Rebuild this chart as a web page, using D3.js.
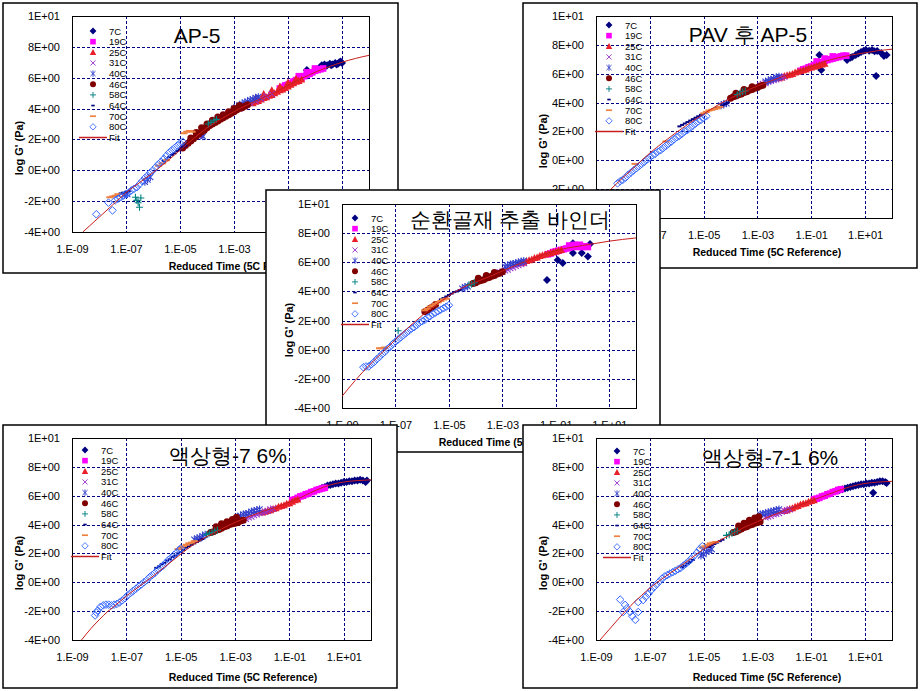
<!DOCTYPE html>
<html>
<head>
<meta charset="utf-8">
<script src="https://cdn.jsdelivr.net/npm/d3@7"></script>
<style>
  body { margin: 0; background: #fff; }
  svg text { font-family: "Liberation Sans", Arial, sans-serif; }
</style>
</head>
<body>
<svg id="chart" width="920" height="691"></svg>
<script>
const temps = ["7C", "19C", "25C", "31C", "40C", "46C", "58C", "64C", "70C", "80C"];
const xTicks = [1e-9, 1e-7, 1e-5, 1e-3, 1e-1, 1e1];
const xTickLabels = ["1.E-09", "1.E-07", "1.E-05", "1.E-03", "1.E-01", "1.E+01"];
const yTicks = [10, 8, 6, 4, 2, 0, -2, -4];
const yTickLabels = ["1E+01", "8E+00", "6E+00", "4E+00", "2E+00", "0E+00", "-2E+00", "-4E+00"];
const titles = ["AP-5", "PAV 후 AP-5", "순환골재 추출 바인더", "액상형-7 6%", "액상형-7-1 6%"];

// points are [log10 reduced time, log G'], one array per temperature (same order as temps)
const ap5Data = [
  [[-0.3,6.5],[0.2,6.7],[0.25,6.8],[0.35,6.85],[0.4,6.75],[0.45,6.8],[0.55,6.9],[0.6,6.8],[0.65,6.85],[0.75,6.95],[0.8,6.85],[0.85,6.9],[0.9,7.0],[0.95,7.05],[1.0,6.95]],
  [[-1.3,5.3],[-1.2,5.4],[-1.1,5.5],[-1.0,5.55],[-0.9,5.65],[-0.8,5.75],[-0.7,5.85],[-0.6,5.9],[-0.5,6.0],[-0.4,6.1],[-0.3,6.2],[-0.2,6.25],[-0.1,6.35],[0.0,6.45],[0.1,6.5],[0.2,6.55],[0.3,6.6],[-0.6,6.1],[-0.3,6.35],[0.0,6.6]],
  [[-2.3,4.35],[-2.2,4.45],[-2.1,4.5],[-2.0,4.6],[-1.9,4.7],[-1.8,4.75],[-1.7,4.85],[-1.6,4.9],[-1.5,5.0],[-1.4,5.1],[-1.3,5.2],[-1.2,5.25],[-1.1,5.35],[-1.0,5.45],[-0.9,5.55],[-0.8,5.65],[-0.7,5.75],[-0.6,5.8],[-0.5,5.9],[-2.2,4.7],[-1.9,4.95],[-1.6,5.2],[-1.3,5.45],[-1.0,5.7],[-0.7,5.95]],
  [[-3.2,3.65],[-3.0,3.85],[-2.8,4.0],[-2.6,4.15],[-2.4,4.35],[-2.2,4.5],[-2.0,4.65],[-1.8,4.8],[-1.6,4.95],[-4.4,2.3],[-4.3,2.25],[-4.2,2.4]],
  [[-3.0,4.0],[-2.9,4.1],[-2.8,4.2],[-2.7,4.3],[-2.6,4.4],[-2.5,4.45],[-2.4,4.55],[-2.3,4.6],[-2.2,4.7],[-2.1,4.75],[-6.3,-0.75],[-6.2,-0.6],[-6.1,-0.45],[-7.05,-1.6],[-6.95,-1.55],[-4.3,2.35],[-4.15,2.2]],
  [[-4.9,1.45],[-4.8,1.6],[-4.7,1.75],[-4.6,1.9],[-4.5,2.05],[-4.4,2.2],[-4.3,2.35],[-4.2,2.5],[-4.1,2.6],[-4.0,2.75],[-3.9,2.9],[-3.8,3.0],[-3.7,3.1],[-3.6,3.2],[-3.5,3.3],[-3.4,3.4],[-3.3,3.5],[-3.2,3.6],[-3.1,3.7],[-3.0,3.8],[-2.9,3.9],[-2.8,4.0],[-2.7,4.05],[-2.6,4.15],[-2.5,4.25],[-4.6,2.1],[-4.4,2.45],[-4.2,2.75],[-4.0,3.0],[-3.8,3.25],[-3.6,3.45],[-3.4,3.6],[-3.2,3.8],[-3.0,4.0],[-2.8,4.2]],
  [[-3.95,3.0],[-3.85,3.1],[-3.75,3.2],[-3.65,3.3],[-6.65,-1.75],[-6.55,-2.1],[-6.45,-1.8],[-6.5,-2.4],[-6.6,-1.95]],
  [[-5.6,0.6],[-5.5,0.7],[-5.4,0.85],[-5.3,1.0],[-5.2,1.1],[-5.1,1.25],[-5.0,1.35],[-4.9,1.5],[-4.8,1.6],[-7.3,-1.6],[-7.2,-1.5],[-7.1,-1.45],[-7.0,-1.4],[-6.9,-1.35]],
  [[-4.85,2.4],[-4.75,2.5],[-4.65,2.55],[-4.55,2.5],[-5.8,0.3],[-5.65,0.45],[-5.5,0.65],[-7.6,-1.75],[-7.5,-1.7],[-7.4,-1.65],[-7.3,-1.55]],
  [[-8.1,-2.85],[-7.65,-2.1],[-7.5,-2.6],[-7.4,-1.95],[-7.3,-1.85],[-7.2,-1.75],[-7.1,-1.65],[-7.0,-1.55],[-6.9,-1.45],[-6.8,-1.3],[-6.7,-1.2],[-6.6,-1.1],[-6.5,-0.9],[-6.4,-0.7],[-6.3,-0.5],[-6.2,-0.35],[-6.1,-0.15],[-6.0,0.0],[-5.9,0.2],[-5.8,0.4],[-5.7,0.55],[-5.6,0.75],[-5.5,0.95],[-5.4,1.15],[-5.3,1.3],[-5.2,1.45],[-5.1,1.6],[-5.0,1.75],[-4.9,1.85]]
];
const ap5Fit = [[-8.6,-4.0],[-8.0,-3.05],[-7.5,-2.25],[-7.0,-1.45],[-6.5,-0.8],[-6.0,-0.15],[-5.5,0.55],[-5.0,1.3],[-4.5,2.05],[-4.0,2.75],[-3.5,3.3],[-3.0,3.8],[-2.5,4.25],[-2.0,4.65],[-1.5,5.05],[-1.0,5.5],[-0.5,5.95],[0,6.35],[0.5,6.7],[1.0,7.0],[1.5,7.25],[2.0,7.45]];

const pavData = [
  [[-0.63,6.26],[-0.7,7.3],[0.33,6.95],[0.45,7.1],[0.52,7.16],[0.65,7.3],[0.75,7.4],[0.85,7.5],[0.95,7.6],[1.03,7.64],[1.15,7.6],[1.26,7.64],[1.35,7.55],[1.45,7.57],[1.41,5.84],[1.6,7.43],[1.7,7.23],[1.8,7.3]],
  [[-1.4,6.2],[-1.3,6.3],[-1.2,6.35],[-1.1,6.45],[-1.0,6.5],[-0.9,6.6],[-0.8,6.65],[-0.7,6.75],[-0.6,6.8],[-0.5,6.9],[-0.4,6.95],[-0.3,7.0],[-0.2,7.05],[-0.1,7.1],[0.0,7.15],[0.1,7.2],[0.2,7.25],[0.3,7.25],[-0.8,6.85],[-0.5,7.05],[-0.2,7.2]],
  [[-2.2,5.7],[-2.1,5.75],[-2.0,5.85],[-1.9,5.9],[-1.8,5.95],[-1.7,6.0],[-1.6,6.1],[-1.5,6.15],[-1.4,6.2],[-1.3,6.25],[-1.2,6.3],[-1.1,6.4],[-1.0,6.45],[-0.9,6.5],[-0.8,6.55],[-0.7,6.6],[-0.6,6.65],[-0.5,6.7]],
  [[-2.9,5.2],[-2.8,5.3],[-2.7,5.35],[-2.6,5.45],[-2.5,5.5],[-2.4,5.55],[-2.3,5.6],[-2.2,5.7],[-2.1,5.75],[-2.0,5.8]],
  [[-2.7,5.45],[-2.6,5.5],[-2.5,5.6],[-2.4,5.65],[-2.3,5.75],[-2.2,5.8],[-4.35,3.8],[-4.25,3.9],[-4.15,3.95]],
  [[-4.0,4.3],[-3.9,4.4],[-3.8,4.45],[-3.7,4.55],[-3.6,4.6],[-3.5,4.7],[-3.4,4.75],[-3.3,4.85],[-3.2,4.9],[-3.1,5.0],[-3.0,5.05],[-2.9,5.15],[-2.8,5.2],[-3.8,4.65],[-3.5,4.9],[-3.2,5.1]],
  [[-3.75,4.55],[-3.65,4.65],[-3.55,4.75],[-3.45,4.8]],
  [[-5.9,2.35],[-5.8,2.45],[-5.7,2.55],[-5.6,2.65],[-5.5,2.75],[-5.4,2.85],[-5.3,2.95],[-5.2,3.05],[-5.1,3.15],[-4.6,3.55],[-4.5,3.65],[-4.4,3.7],[-4.3,3.8],[-4.2,3.9],[-4.1,4.0]],
  [[-5.0,3.25],[-4.9,3.35],[-4.8,3.45],[-4.7,3.5],[-4.6,3.55],[-4.5,3.6],[-4.4,3.7],[-7.55,-0.25],[-6.4,1.3]],
  [[-8.2,-1.6],[-8.1,-1.45],[-8.0,-1.35],[-7.9,-1.2],[-7.8,-1.0],[-7.7,-0.85],[-7.6,-0.7],[-7.5,-0.55],[-7.4,-0.4],[-7.3,-0.25],[-7.2,-0.1],[-7.1,0.05],[-7.0,0.2],[-6.9,0.35],[-6.8,0.45],[-6.7,0.6],[-6.6,0.7],[-6.5,0.85],[-6.4,1.0],[-6.3,1.15],[-6.2,1.3],[-6.1,1.45],[-6.0,1.6],[-5.9,1.7],[-5.8,1.85],[-5.7,2.0],[-5.6,2.1],[-5.5,2.25],[-5.4,2.4],[-5.3,2.55],[-5.2,2.7],[-5.1,2.8],[-5.0,2.95],[-4.9,3.05]]
];
const pavFit = [[-8.5,-2.1],[-8.0,-1.2],[-7.5,-0.35],[-7.0,0.5],[-6.5,1.25],[-6.0,1.95],[-5.5,2.6],[-5.0,3.2],[-4.5,3.8],[-4.0,4.3],[-3.5,4.75],[-3.0,5.15],[-2.5,5.5],[-2.0,5.85],[-1.5,6.15],[-1.0,6.5],[-0.5,6.85],[0,7.1],[0.5,7.3],[1.0,7.45],[1.5,7.6],[2.0,7.7]];

const recycledData = [
  [[-1.33,4.78],[-0.93,6.16],[-0.74,5.95],[-0.36,7.3],[-0.36,6.64],[-0.03,6.64],[0.2,6.4],[0.28,7.25]],
  [[-1.3,6.55],[-1.2,6.6],[-1.1,6.7],[-1.0,6.75],[-0.9,6.8],[-0.8,6.85],[-0.7,6.9],[-0.6,6.95],[-0.5,7.0],[-0.4,7.05],[-0.3,7.1],[-0.2,7.05],[-0.1,7.1],[0.0,7.05],[0.1,7.1],[0.2,7.05],[-0.5,7.15],[-0.3,7.2],[-0.1,7.2]],
  [[-2.3,5.95],[-2.2,6.0],[-2.1,6.1],[-2.0,6.15],[-1.9,6.2],[-1.8,6.3],[-1.7,6.35],[-1.6,6.45],[-1.5,6.5],[-1.4,6.55],[-1.3,6.6],[-1.2,6.65],[-1.1,6.7],[-1.0,6.75],[-0.9,6.8],[-0.8,6.85]],
  [[-3.1,5.3],[-3.0,5.35],[-2.9,5.45],[-2.8,5.5],[-2.7,5.6],[-2.6,5.65],[-2.5,5.75],[-2.4,5.8],[-2.3,5.9],[-2.2,5.95]],
  [[-2.9,5.7],[-2.8,5.75],[-2.7,5.85],[-2.6,5.9],[-2.5,5.95],[-2.4,6.0],[-2.3,6.05],[-2.2,6.1],[-4.5,4.2],[-4.4,4.3],[-4.3,4.35]],
  [[-5.9,2.6],[-5.8,2.7],[-5.7,2.85],[-5.6,2.95],[-5.5,3.1],[-4.1,4.55],[-4.0,4.6],[-3.9,4.7],[-3.8,4.75],[-3.7,4.8],[-3.6,4.9],[-3.5,4.95],[-3.4,5.05],[-3.3,5.1],[-3.2,5.2],[-3.1,5.25],[-3.0,5.35],[-3.9,4.9],[-3.6,5.1],[-3.3,5.3]],
  [[-4.25,4.45],[-4.15,4.5],[-4.05,4.6],[-6.9,1.3]],
  [[-5.3,3.45],[-5.2,3.55],[-5.1,3.65],[-5.0,3.75],[-4.9,3.85],[-4.8,3.95],[-4.7,4.0],[-4.6,4.1]],
  [[-5.9,2.7],[-5.8,2.8],[-5.7,2.95],[-5.6,3.05],[-5.5,3.15],[-5.4,3.25],[-5.3,3.35],[-5.2,3.45],[-5.1,3.5],[-7.6,0.1],[-7.5,0.1],[-7.4,0.15]],
  [[-8.2,-1.2],[-8.1,-1.15],[-8.0,-1.15],[-7.9,-1.0],[-7.8,-0.85],[-7.7,-0.65],[-7.6,-0.5],[-7.5,-0.3],[-7.4,-0.15],[-7.3,0.05],[-7.2,0.2],[-7.1,0.4],[-7.0,0.55],[-6.9,0.7],[-6.8,0.85],[-6.7,1.0],[-6.6,1.15],[-6.5,1.3],[-6.4,1.45],[-6.3,1.55],[-6.2,1.7],[-6.1,1.85],[-6.0,1.95],[-5.9,2.05],[-5.8,2.2],[-5.7,2.3],[-5.6,2.45],[-5.5,2.55],[-5.4,2.65],[-5.3,2.75],[-5.2,2.85],[-5.1,2.95],[-5.0,3.05]]
];
const recycledFit = [[-9.0,-3.2],[-8.5,-2.1],[-8.0,-1.1],[-7.5,-0.2],[-7.0,0.7],[-6.5,1.55],[-6.0,2.35],[-5.5,3.05],[-5.0,3.7],[-4.5,4.25],[-4.0,4.65],[-3.5,5.0],[-3.0,5.4],[-2.5,5.8],[-2.0,6.15],[-1.5,6.5],[-1.0,6.8],[-0.5,7.0],[0,7.15],[0.5,7.3],[1.0,7.45],[1.5,7.57],[2.0,7.67]];

const liq7Data = [
  [[0.1,6.45],[0.2,6.55],[0.3,6.6],[0.4,6.7],[0.5,6.75],[0.6,6.8],[0.7,6.85],[0.8,6.85],[0.9,6.9],[1.0,6.95],[1.1,6.95],[1.2,7.0],[1.3,7.0],[1.4,7.05],[1.5,7.05],[1.6,7.1],[1.7,7.05],[1.8,6.95],[1.85,7.05]],
  [[-0.9,5.7],[-0.8,5.75],[-0.7,5.85],[-0.6,5.95],[-0.5,6.0],[-0.4,6.1],[-0.3,6.15],[-0.2,6.25],[-0.1,6.3],[0.0,6.4],[0.1,6.45],[0.2,6.5],[0.3,6.55]],
  [[-2.0,4.85],[-1.9,4.9],[-1.8,4.95],[-1.7,5.0],[-1.6,5.1],[-1.5,5.15],[-1.4,5.25],[-1.3,5.3],[-1.2,5.35],[-1.1,5.45],[-1.0,5.5],[-0.9,5.6],[-0.8,5.7],[-0.7,5.75]],
  [[-2.7,4.35],[-2.6,4.4],[-2.5,4.5],[-2.4,4.55],[-2.3,4.65],[-2.2,4.7],[-2.1,4.8],[-2.0,4.85],[-1.9,4.9],[-1.8,4.95],[-1.7,5.05],[-1.6,5.1]],
  [[-2.9,4.55],[-2.8,4.6],[-2.7,4.7],[-2.6,4.75],[-2.5,4.8],[-2.4,4.9],[-2.3,4.95],[-2.2,5.0],[-2.1,5.05],[-4.5,2.95],[-4.4,3.05],[-4.3,3.1],[-4.2,3.2],[-4.1,3.3]],
  [[-3.9,3.45],[-3.8,3.5],[-3.7,3.6],[-3.6,3.65],[-3.5,3.75],[-3.4,3.85],[-3.3,3.9],[-3.2,4.0],[-3.1,4.05],[-3.0,4.1],[-2.9,4.15],[-2.8,4.25],[-2.7,4.3],[-3.7,3.85],[-3.5,4.05],[-3.3,4.2],[-3.1,4.35],[-2.95,4.5]],
  [[-4.05,3.3],[-3.95,3.4],[-3.85,3.45],[-3.75,3.55],[-3.65,3.6]],
  [[-5.9,1.0],[-5.8,1.1],[-5.7,1.25],[-5.6,1.35],[-5.5,1.5],[-5.4,1.6],[-5.3,1.75],[-5.2,1.85],[-5.1,2.0],[-5.0,2.1],[-4.9,2.25],[-4.8,2.4],[-4.7,2.5],[-4.6,2.6],[-4.5,2.7],[-4.4,2.8],[-4.3,2.9],[-4.2,3.0]],
  [[-5.1,2.3],[-5.0,2.4],[-4.9,2.5],[-4.8,2.6],[-4.7,2.7],[-4.6,2.75],[-4.5,2.85]],
  [[-8.15,-2.3],[-8.1,-2.1],[-8.05,-1.95],[-7.95,-1.7],[-7.85,-1.6],[-7.75,-1.55],[-7.65,-1.55],[-7.55,-1.6],[-7.45,-1.55],[-7.35,-1.5],[-7.25,-1.4],[-7.15,-1.25],[-7.05,-1.1],[-6.95,-0.9],[-6.85,-0.75],[-6.75,-0.6],[-6.65,-0.45],[-6.55,-0.3],[-6.45,-0.15],[-6.35,0.0],[-6.25,0.15],[-6.15,0.35],[-6.05,0.5],[-5.95,0.65],[-5.85,0.85],[-5.75,1.0],[-5.65,1.15],[-5.55,1.35],[-5.45,1.55],[-5.35,1.7],[-5.25,1.9],[-5.15,2.05],[-5.05,2.25],[-5.0,2.35]]
];
const liq7Fit = [[-8.65,-4.0],[-8.3,-3.2],[-8.0,-2.6],[-7.7,-2.05],[-7.5,-1.75],[-7.0,-0.95],[-6.5,-0.25],[-6.0,0.45],[-5.5,1.2],[-5.0,1.95],[-4.5,2.65],[-4.0,3.2],[-3.5,3.7],[-3.0,4.15],[-2.5,4.55],[-2.0,4.9],[-1.5,5.2],[-1.0,5.55],[-0.5,5.95],[0,6.4],[0.5,6.75],[1.0,6.95],[1.5,7.05],[2.0,7.1]];

const liq71Data = [
  [[0.05,6.4],[0.15,6.45],[0.25,6.5],[0.35,6.55],[0.45,6.6],[0.55,6.65],[0.65,6.7],[0.75,6.75],[0.85,6.8],[0.95,6.8],[1.05,6.85],[1.15,6.85],[1.25,6.9],[1.3,6.2],[1.35,6.9],[1.45,6.95],[1.55,7.0],[1.65,7.0],[1.75,6.95],[1.8,6.88]],
  [[-0.9,5.75],[-0.8,5.8],[-0.7,5.85],[-0.6,5.95],[-0.5,6.0],[-0.4,6.1],[-0.3,6.15],[-0.2,6.25],[-0.1,6.3],[0.0,6.4],[0.1,6.45]],
  [[-2.0,4.95],[-1.9,5.0],[-1.8,5.1],[-1.7,5.15],[-1.6,5.25],[-1.5,5.3],[-1.4,5.4],[-1.3,5.45],[-1.2,5.5],[-1.1,5.6],[-1.0,5.65],[-0.9,5.7]],
  [[-2.7,4.5],[-2.6,4.55],[-2.5,4.6],[-2.4,4.7],[-2.3,4.75],[-2.2,4.8],[-2.1,4.9],[-2.0,4.95],[-1.9,5.0],[-1.8,5.05]],
  [[-2.9,4.7],[-2.8,4.75],[-2.7,4.8],[-2.6,4.85],[-2.5,4.9],[-2.4,4.95],[-2.3,5.0],[-2.2,5.05],[-5.1,1.85],[-5.0,1.95],[-4.9,2.1],[-4.8,2.2],[-4.7,2.3]],
  [[-3.9,3.45],[-3.8,3.5],[-3.7,3.6],[-3.6,3.7],[-3.5,3.8],[-3.4,3.85],[-3.3,3.95],[-3.2,4.0],[-3.1,4.1],[-3.0,4.15],[-2.9,4.2],[-3.7,3.9],[-3.5,4.1],[-3.3,4.3],[-3.1,4.45],[-2.95,4.55]],
  [[-4.15,3.25],[-4.05,3.3],[-3.95,3.4],[-3.85,3.5],[-3.75,3.55]],
  [[-5.8,1.05],[-5.7,1.15],[-5.6,1.3],[-5.5,1.4],[-5.4,1.55],[-4.8,2.45],[-4.7,2.55],[-4.6,2.65],[-4.5,2.75],[-4.4,2.85],[-4.3,2.95]],
  [[-5.05,2.4],[-4.95,2.5],[-4.85,2.6],[-4.75,2.7],[-4.65,2.75],[-4.55,2.8]],
  [[-8.1,-1.2],[-7.92,-1.57],[-7.99,-2.06],[-7.85,-1.8],[-7.73,-2.06],[-7.65,-2.35],[-7.54,-2.6],[-7.43,-2.06],[-7.43,-1.37],[-7.25,-1.23],[-7.15,-1.0],[-7.05,-0.8],[-6.95,-0.55],[-6.85,-0.35],[-6.75,-0.15],[-6.65,0.05],[-6.55,0.25],[-6.45,0.4],[-6.35,0.5],[-6.25,0.6],[-6.15,0.7],[-6.05,0.8],[-5.95,0.9],[-5.85,1.0],[-5.75,1.15],[-5.65,1.3],[-5.55,1.45],[-5.45,1.65],[-5.35,1.85],[-5.25,2.05],[-5.15,2.3],[-5.05,2.5]]
];
const liq71Fit = [[-8.85,-4.0],[-8.5,-3.25],[-8.1,-2.4],[-7.7,-1.6],[-7.3,-0.9],[-7.0,-0.4],[-6.5,0.3],[-6.0,0.95],[-5.5,1.6],[-5.0,2.3],[-4.5,2.8],[-4.0,3.3],[-3.5,3.8],[-3.0,4.2],[-2.5,4.6],[-2.0,4.95],[-1.5,5.3],[-1.0,5.65],[-0.5,6.0],[0,6.35],[0.5,6.65],[1.0,6.85],[1.5,6.95],[2.0,7.0]];

// layout of the five pasted chart objects, back to front
const panels = [
  {title: titles[0], data: ap5Data, fit: ap5Fit, box: [3, 3, 398, 273], plot: [72, 16, 369, 232], titleX: 197, titleY: 43, legX: 93, legY: 31, xTitleDy: 38},
  {title: titles[1], data: pavData, fit: pavFit, box: [523, 3, 917, 268], plot: [596, 16, 892, 218], titleX: 748, titleY: 42, legX: 609, legY: 25, xTitleDy: 38},
  {title: titles[2], data: recycledData, fit: recycledFit, box: [266, 190, 660, 452], plot: [342, 204, 636, 408], titleX: 510, titleY: 227, legX: 355, legY: 218, xTitleDy: 38},
  {title: titles[3], data: liq7Data, fit: liq7Fit, box: [3, 425, 397, 688], plot: [72, 438, 371, 640], titleX: 228, titleY: 463, legX: 85, legY: 450, xTitleDy: 41},
  {title: titles[4], data: liq71Data, fit: liq71Fit, box: [523, 425, 917, 688], plot: [596, 438, 892, 640], titleX: 770, titleY: 465, legX: 617, legY: 451, xTitleDy: 41}
];

const markers = [
  {path: "M0,-4L4,0L0,4L-4,0Z", fill: "#000080", stroke: "none"},
  {path: "M-3.3,-3.3H3.3V3.3H-3.3Z", fill: "#FF00FF", stroke: "none"},
  {path: "M0,-3.8L3.8,3.2L-3.8,3.2Z", fill: "#E8202A", stroke: "none"},
  {path: "M-3,-3L3,3M-3,3L3,-3", fill: "none", stroke: "#9933CC", width: 1.1},
  {path: "M-3,-3L3,3M-3,3L3,-3M0,-3.8V3.8", fill: "none", stroke: "#3340CC", width: 1.1},
  {path: "M-3.5,0A3.5,3.5 0 1,0 3.5,0A3.5,3.5 0 1,0 -3.5,0Z", fill: "#800000", stroke: "none"},
  {path: "M-3.5,0H3.5M0,-3.5V3.5", fill: "none", stroke: "#008080", width: 1.1},
  {path: "M-2,0H2", fill: "none", stroke: "#000080", width: 2},
  {path: "M-3.5,0H3.5", fill: "none", stroke: "#F08040", width: 2},
  {path: "M0,-3.8L3.8,0L0,3.8L-3.8,0Z", fill: "none", stroke: "#3366FF", width: 1}
];
const fitColor = "#C81E1E";
const gridColor = "#000080";

const svg = d3.select("#chart");

panels.forEach((p, pi) => {
  const g = svg.append("g");
  const [bx0, by0, bx1, by1] = p.box;
  const [px0, py0, px1, py1] = p.plot;

  g.append("rect")
    .attr("x", bx0).attr("y", by0)
    .attr("width", bx1 - bx0).attr("height", by1 - by0)
    .attr("fill", "#fff").attr("stroke", "#000").attr("stroke-width", 1.5);

  const x = d3.scaleLog().domain([1e-9, 1e2]).range([px0, px1]);
  const y = d3.scaleLinear().domain([-4, 10]).range([py1, py0]);

  // dashed grid
  g.append("g").selectAll("line")
    .data(yTicks.slice(1, -1))
    .join("line")
    .attr("x1", px0).attr("x2", px1)
    .attr("y1", d => Math.round(y(d)) + 0.5).attr("y2", d => Math.round(y(d)) + 0.5)
    .attr("stroke", gridColor).attr("stroke-dasharray", "3,2");

  g.append("g").selectAll("line")
    .data(xTicks.slice(1))
    .join("line")
    .attr("x1", d => Math.round(x(d)) + 0.5).attr("x2", d => Math.round(x(d)) + 0.5)
    .attr("y1", py0).attr("y2", py1)
    .attr("stroke", gridColor).attr("stroke-dasharray", "3,2");

  g.append("rect")
    .attr("x", px0 + 0.5).attr("y", py0 + 0.5)
    .attr("width", px1 - px0).attr("height", py1 - py0)
    .attr("fill", "none").attr("stroke", "#000");

  // axes
  const yAxis = d3.axisLeft(y)
    .tickValues(yTicks)
    .tickFormat((d, i) => yTickLabels[i])
    .tickSize(0).tickPadding(12);
  g.append("g")
    .attr("transform", `translate(${px0},0)`)
    .call(yAxis)
    .attr("font-size", 11)
    .attr("font-family", null)
    .call(a => a.select(".domain").remove());

  const xAxis = d3.axisBottom(x)
    .tickValues(xTicks)
    .tickFormat((d, i) => xTickLabels[i])
    .tickSize(0).tickPadding(13);
  g.append("g")
    .attr("transform", `translate(0,${py1})`)
    .call(xAxis)
    .attr("font-size", 11)
    .attr("font-family", null)
    .call(a => a.select(".domain").remove());

  g.append("text")
    .attr("x", px0 + 171).attr("y", py1 + p.xTitleDy)
    .attr("text-anchor", "middle")
    .attr("font-size", 10.5).attr("font-weight", "bold")
    .text("Reduced Time (5C Reference)");

  g.append("text")
    .attr("transform", `translate(${px0 - 49},${(py0 + py1) / 2 + 24}) rotate(-90)`)
    .attr("text-anchor", "middle")
    .attr("font-size", 11).attr("font-weight", "bold")
    .text("log G' (Pa)");

  // data
  g.append("clipPath").attr("id", "clip" + pi)
    .append("rect").attr("x", px0).attr("y", py0)
    .attr("width", px1 - px0).attr("height", py1 - py0);
  const plotG = g.append("g").attr("clip-path", `url(#clip${pi})`);

  p.data.forEach((series, si) => {
    const m = markers[si];
    plotG.append("g").selectAll("path")
      .data(series)
      .join("path")
      .attr("transform", d => `translate(${x(Math.pow(10, d[0]))},${y(d[1])})`)
      .attr("d", m.path)
      .attr("fill", m.fill)
      .attr("stroke", m.stroke)
      .attr("stroke-width", m.width || 0);
  });

  const line = d3.line()
    .x(d => x(Math.pow(10, d[0])))
    .y(d => y(d[1]))
    .curve(d3.curveMonotoneX);
  plotG.append("path")
    .datum(p.fit)
    .attr("d", line)
    .attr("fill", "none").attr("stroke", fitColor).attr("stroke-width", 1);

  // legend
  const rowH = 10.65;
  const leg = g.append("g").attr("font-size", 9.5);
  temps.forEach((t, i) => {
    const m = markers[i];
    const cy = p.legY + i * rowH;
    leg.append("path")
      .attr("transform", `translate(${p.legX},${cy}) scale(0.85)`)
      .attr("d", m.path)
      .attr("fill", m.fill).attr("stroke", m.stroke).attr("stroke-width", m.width || 0);
    leg.append("text").attr("x", p.legX + 16).attr("y", cy + 3.5).text(t);
  });
  const fy = p.legY + 10 * rowH;
  leg.append("line")
    .attr("x1", p.legX - 14).attr("x2", p.legX + 14)
    .attr("y1", fy).attr("y2", fy)
    .attr("stroke", fitColor).attr("stroke-width", 1.5);
  leg.append("text").attr("x", p.legX + 16).attr("y", fy + 3.5).text("Fit");

  g.append("text")
    .attr("x", p.titleX).attr("y", p.titleY)
    .attr("text-anchor", "middle")
    .attr("font-family", "'Noto Sans CJK KR', 'Noto Sans', sans-serif")
    .attr("font-size", 21)
    .text(p.title);
});
</script>
</body>
</html>
